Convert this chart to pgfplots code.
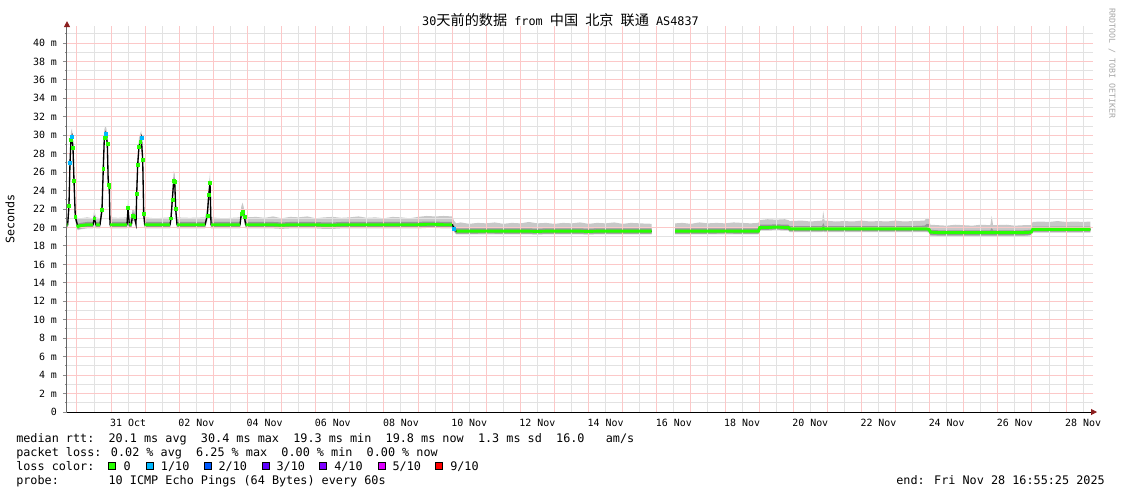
\documentclass[border=0pt]{standalone}
\usepackage{fontspec}
\setmainfont{DejaVu Sans Mono}
\newfontfamily\cjk[Scale=1.2]{Noto Sans CJK SC}
\usepackage{pgfplots}
\usepackage{pgfplotstable}
\pgfplotsset{compat=1.18}
\usepgfplotslibrary{fillbetween}
\usetikzlibrary{arrows.meta}

\definecolor{loss0}{HTML}{26FF00}
\definecolor{loss1}{HTML}{00B8FF}
\definecolor{loss2}{HTML}{0059FF}
\definecolor{loss3}{HTML}{5E00FF}
\definecolor{loss4}{HTML}{7E00FF}
\definecolor{loss5}{HTML}{DD00FF}
\definecolor{loss9}{HTML}{FF0000}
\definecolor{pinkgrid}{RGB}{252,200,200}
\definecolor{graygrid}{RGB}{226,226,226}
\definecolor{smokelt}{RGB}{200,200,200}
\definecolor{smokedk}{RGB}{150,150,150}
\definecolor{arrowred}{RGB}{140,30,30}

% d = days since 30 Oct 00:00; f=1 flat (thick line), l=1 loss 1/10
\pgfplotstableread{
d      med   lo    hi    dlo   dhi   f l
-0.293 20.3  19.9  21.0  20.0  20.6  1 0
-0.273 20.3  19.9  21.1  20.0  20.6  1 0
-0.235 22.4  21.9  23.3  22.1  22.75 0 0
-0.205 27.0  26.5  27.9  26.7  27.35 0 1
-0.176 29.5  29.0  30.4  29.2  29.85 0 0
-0.147 29.85 29.35 30.75 29.55 30.2  0 1
-0.117 28.6  28.1  29.5  28.3  28.95 0 0
-0.088 25.1  24.6  26.0  24.8  25.45 0 0
-0.050 21.2  20.7  22.1  20.9  21.55 0 0
0.009  20.3  19.8  21.1  20.0  20.6  1 0
0.029  20.1  19.7  20.9  19.85 20.4  1 0
0.10   20.2  19.8  21.0  19.9  20.5  1 0
0.30   20.3  19.9  21.1  20.0  20.6  1 0
0.469  20.3  19.9  21.0  20.0  20.6  1 0
0.507  21.0  20.5  21.9  20.7  21.35 0 0
0.557  20.3  19.9  21.1  20.0  20.6  1 0
0.674  20.3  19.9  21.0  20.0  20.6  1 0
0.733  21.9  21.4  22.8  21.6  22.25 0 0
0.771  26.4  25.9  27.3  26.1  26.75 0 0
0.801  29.7  29.2  30.6  29.4  30.05 0 0
0.830  30.2  29.7  31.0  29.9  30.55 0 1
0.859  29.9  29.4  30.8  29.6  30.25 0 0
0.889  29.1  28.6  30.0  28.8  29.45 0 0
0.918  24.6  24.1  25.5  24.3  24.95 0 0
0.947  24.4  23.9  25.2  24.1  24.75 0 0
0.968  20.3  19.9  21.1  20.0  20.6  1 0
1.20   20.3  19.9  21.05 20.0  20.6  1 0
1.466  20.3  19.9  21.1  20.0  20.6  1 0
1.496  22.1  21.6  23.0  21.8  22.45 0 0
1.534  20.3  19.9  21.0  20.0  20.6  1 0
1.60   20.4  20.0  21.2  20.1  20.7  1 0
1.622  21.3  20.8  22.0  21.0  21.65 0 0
1.680  21.2  20.7  21.9  20.9  21.55 0 0
1.730  20.4  20.0  21.1  20.1  20.7  1 0
1.751  23.7  23.2  24.6  23.4  24.05 0 0
1.780  26.8  26.3  27.7  26.5  27.15 0 0
1.818  28.8  28.3  29.7  28.5  29.15 0 0
1.856  29.3  28.8  30.2  29.0  29.65 0 0
1.886  29.7  29.2  30.5  29.4  30.05 0 1
1.927  27.3  26.8  28.2  27.0  27.65 0 0
1.956  21.5  21.0  22.3  21.2  21.85 0 0
1.985  20.3  19.9  21.1  20.0  20.6  1 0
2.30   20.3  19.9  21.0  20.0  20.6  1 0
2.727  20.3  19.9  21.1  20.0  20.6  1 0
2.757  21.0  20.5  21.8  20.7  21.35 0 0
2.795  23.0  22.5  23.9  22.7  23.35 0 0
2.836  25.1  24.6  26.1  24.8  25.45 0 0
2.865  25.0  24.5  25.9  24.7  25.35 0 0
2.894  22.0  21.5  22.8  21.7  22.35 0 0
2.933  20.3  19.9  21.1  20.0  20.6  1 0
3.30   20.3  19.9  21.05 20.0  20.6  1 0
3.754  20.3  19.9  21.1  20.0  20.6  1 0
3.821  21.3  20.8  22.1  21.0  21.65 0 0
3.862  23.5  23.0  24.4  23.2  23.85 0 0
3.900  24.8  24.3  25.9  24.5  25.15 0 0
3.930  20.3  19.9  21.1  20.0  20.6  1 0
4.30   20.3  19.9  21.0  20.0  20.6  1 0
4.780  20.3  19.9  21.1  20.0  20.6  1 0
4.818  21.5  21.0  22.3  21.2  21.85 0 0
4.859  21.7  21.2  22.7  21.4  22.05 0 0
4.906  21.2  20.7  21.9  20.9  21.55 0 0
4.947  20.3  19.9  21.1  20.0  20.6  1 0
5.25   20.3  19.9  21.15 20.0  20.6  1 0
5.5    20.3  19.9  21.05 20.0  20.6  1 0
5.75   20.3  19.9  21.2  20.0  20.6  1 0
6.0    20.25 19.85 21.0  19.95 20.55 1 0
6.25   20.3  19.9  21.15 20.0  20.6  1 0
6.5    20.3  19.9  21.1  20.0  20.6  1 0
6.75   20.3  19.9  21.2  20.0  20.6  1 0
7.0    20.3  19.9  21.0  20.0  20.6  1 0
7.25   20.25 19.85 21.1  19.95 20.55 1 0
7.5    20.25 19.85 21.15 19.95 20.55 1 0
7.75   20.3  19.9  21.05 20.0  20.6  1 0
8.0    20.3  19.9  21.1  20.0  20.6  1 0
8.25   20.3  19.9  21.2  20.0  20.6  1 0
8.5    20.3  19.9  21.05 20.0  20.6  1 0
8.75   20.3  19.9  21.1  20.0  20.6  1 0
9.0    20.3  19.9  21.0  20.0  20.6  1 0
9.25   20.3  19.9  21.15 20.0  20.6  1 0
9.5    20.3  19.9  21.1  20.0  20.6  1 0
9.75   20.3  19.9  21.0  20.0  20.6  1 0
10.0   20.3  19.9  21.15 20.0  20.6  1 0
10.25  20.35 19.95 21.25 20.05 20.65 1 0
10.5   20.35 19.95 21.2  20.05 20.65 1 0
10.75  20.3  19.9  21.25 20.0  20.6  1 0
11.0   20.3  19.9  21.2  20.0  20.6  1 0
11.06  19.9  19.5  20.7  19.6  20.2  0 1
11.12  19.6  19.25 20.45 19.35 19.9  1 0
11.25  19.6  19.25 20.55 19.35 19.9  1 0
11.5   19.6  19.25 20.4  19.35 19.9  1 0
11.75  19.6  19.25 20.5  19.35 19.9  1 0
12.0   19.62 19.27 20.45 19.37 19.92 1 0
12.25  19.6  19.25 20.55 19.35 19.9  1 0
12.5   19.6  19.25 20.4  19.35 19.9  1 0
12.75  19.6  19.25 20.5  19.35 19.9  1 0
13.0   19.6  19.25 20.45 19.35 19.9  1 0
13.25  19.6  19.25 20.6  19.35 19.9  1 0
13.5   19.58 19.23 20.45 19.33 19.88 1 0
13.75  19.6  19.25 20.5  19.35 19.9  1 0
14.0   19.6  19.25 20.4  19.35 19.9  1 0
14.25  19.6  19.25 20.5  19.35 19.9  1 0
14.5   19.6  19.25 20.45 19.35 19.9  1 0
14.75  19.6  19.25 20.55 19.35 19.9  1 0
15.0   19.58 19.23 20.4  19.33 19.88 1 0
15.25  19.6  19.25 20.5  19.35 19.9  1 0
15.5   19.6  19.25 20.45 19.35 19.9  1 0
15.75  19.6  19.25 20.55 19.35 19.9  1 0
16.0   19.6  19.25 20.4  19.35 19.9  1 0
16.25  19.6  19.25 20.5  19.35 19.9  1 0
16.5   19.6  19.25 20.45 19.35 19.9  1 0
16.85  19.6  19.25 20.4  19.35 19.9  1 0
}\segA

\pgfplotstableread{
d      med   lo    hi    dlo   dhi   f l
17.54  19.6  19.25 20.45 19.35 19.9  1 0
17.75  19.6  19.25 20.5  19.35 19.9  1 0
18.0   19.6  19.25 20.4  19.35 19.9  1 0
18.25  19.6  19.25 20.55 19.35 19.9  1 0
18.5   19.6  19.25 20.45 19.35 19.9  1 0
18.75  19.6  19.25 20.5  19.35 19.9  1 0
19.0   19.62 19.27 20.45 19.37 19.92 1 0
19.25  19.6  19.25 20.55 19.35 19.9  1 0
19.5   19.6  19.25 20.5  19.35 19.9  1 0
19.75  19.6  19.25 20.45 19.35 19.9  1 0
19.98  19.6  19.25 20.5  19.35 19.9  1 0
20.02  20.0  19.65 20.8  19.75 20.3  1 0
20.25  20.0  19.65 20.9  19.75 20.3  1 0
20.5   20.05 19.7  20.85 19.8  20.35 1 0
20.75  20.0  19.65 20.9  19.75 20.3  1 0
20.86  20.0  19.65 20.8  19.75 20.3  1 0
20.9   19.85 19.5  20.7  19.6  20.15 1 0
21.25  19.85 19.5  20.75 19.6  20.15 1 0
21.5   19.85 19.5  20.65 19.6  20.15 1 0
21.85  19.85 19.5  20.75 19.6  20.15 1 0
21.88  19.9  19.55 21.75 19.65 20.5  1 0
21.92  19.85 19.5  20.75 19.6  20.15 1 0
22.25  19.85 19.5  20.65 19.6  20.15 1 0
22.5   19.85 19.5  20.7  19.6  20.15 1 0
22.75  19.85 19.5  20.65 19.6  20.15 1 0
23.0   19.85 19.5  20.75 19.6  20.15 1 0
23.25  19.85 19.5  20.65 19.6  20.15 1 0
23.5   19.85 19.5  20.7  19.6  20.15 1 0
23.75  19.85 19.5  20.65 19.6  20.15 1 0
24.0   19.85 19.5  20.75 19.6  20.15 1 0
24.25  19.85 19.5  20.65 19.6  20.15 1 0
24.5   19.85 19.5  20.7  19.6  20.15 1 0
24.85  19.85 19.5  20.75 19.6  20.2  1 0
24.92  19.85 19.5  21.05 19.6  20.4  1 0
24.98  19.8  19.45 21.0  19.55 20.35 1 0
25.02  19.5  19.1  20.3  19.2  19.75 1 0
25.25  19.45 19.05 20.25 19.15 19.7  1 0
25.5   19.45 19.05 20.2  19.15 19.7  1 0
25.75  19.45 19.05 20.3  19.15 19.7  1 0
26.0   19.45 19.05 20.25 19.15 19.7  1 0
26.25  19.45 19.05 20.2  19.15 19.7  1 0
26.5   19.45 19.05 20.3  19.15 19.7  1 0
26.78  19.45 19.05 20.25 19.15 19.7  1 0
26.82  19.45 19.05 21.25 19.15 19.95 1 0
26.86  19.45 19.05 20.25 19.15 19.7  1 0
27.25  19.45 19.05 20.3  19.15 19.7  1 0
27.5   19.45 19.05 20.2  19.15 19.7  1 0
27.75  19.45 19.05 20.25 19.15 19.7  1 0
27.98  19.5  19.15 20.25 19.2  19.75 1 0
28.02  19.8  19.45 20.6  19.55 20.1  1 0
28.25  19.8  19.45 20.65 19.55 20.1  1 0
28.5   19.8  19.45 20.6  19.55 20.1  1 0
28.75  19.8  19.45 20.7  19.55 20.1  1 0
29.0   19.8  19.45 20.6  19.55 20.1  1 0
29.25  19.8  19.45 20.65 19.55 20.1  1 0
29.5   19.8  19.45 20.6  19.55 20.1  1 0
29.71  19.8  19.45 20.65 19.55 20.1  1 0
}\segB

\begin{document}
\begin{tikzpicture}
\begin{scope}[x=0.75pt,y=-0.75pt,shift={(-67,-412)}]
\path[use as bounding box] (0,0) rectangle (1121,494);
\end{scope}

\begin{axis}[
  at={(0pt,0pt)}, anchor=south west,
  scale only axis, width=769.5pt, height=289.2pt,
  xmin=-0.293, xmax=29.79, ymin=0, ymax=41.8,
  axis lines=left,
  x axis line style={black, line width=0.75pt, shorten >=-3pt, -{Triangle[length=4.5pt,width=4.5pt,color=arrowred]}},
  y axis line style={black!60, line width=0.75pt, shorten >=-4pt, -{Triangle[length=4.5pt,width=4.5pt,color=arrowred]}},
  xtick={1.5,3.5,...,29.5},
  xticklabels={31 Oct,02 Nov,04 Nov,06 Nov,08 Nov,10 Nov,12 Nov,14 Nov,16 Nov,18 Nov,20 Nov,22 Nov,24 Nov,26 Nov,28 Nov},
  x tick style={draw=none},
  ytick={0,2,...,40},
  yticklabels={0,2 m,4 m,6 m,8 m,10 m,12 m,14 m,16 m,18 m,20 m,22 m,24 m,26 m,28 m,30 m,32 m,34 m,36 m,38 m,40 m},
  minor ytick={1,3,...,41},
  y tick style={black!45, line width=0.75pt},
  tick align=outside, major tick length=3pt, minor tick length=1.5pt,
  ticklabel style={font=\fontsize{7.45}{8}\selectfont, text=black},
  yticklabel style={xshift=-1pt},
  xticklabel style={yshift=1pt},
  clip=false,
]
% grid: gray every 12 h and every 1 m, pink every day and every 2 m
\pgfplotsinvokeforeach{0.5,1.5,...,29.5}{\draw[draw=graygrid, line width=0.75pt] (axis cs:#1,0) -- (axis cs:#1,41.8);}
\pgfplotsinvokeforeach{1,3,...,41}{\draw[draw=graygrid, line width=0.75pt] (axis cs:-0.293,#1) -- (axis cs:29.79,#1);}
\pgfplotsinvokeforeach{0,1,...,29}{\draw[draw=pinkgrid, line width=0.75pt] (axis cs:#1,0) -- (axis cs:#1,41.8);}
\pgfplotsinvokeforeach{2,4,...,40}{\draw[draw=pinkgrid, line width=0.75pt] (axis cs:-0.293,#1) -- (axis cs:29.79,#1);}
% smoke, segment A
\addplot[draw=none, forget plot, name path=ahi] table[x=d,y=hi]{\segA};
\addplot[draw=none, forget plot, name path=alo] table[x=d,y=lo]{\segA};
\addplot[draw=none, forget plot, name path=adh] table[x=d,y=dhi]{\segA};
\addplot[draw=none, forget plot, name path=adl] table[x=d,y=dlo]{\segA};
\addplot[smokelt, forget plot] fill between[of=ahi and alo];
\addplot[smokedk, forget plot] fill between[of=adh and adl];
% smoke, segment B
\addplot[draw=none, forget plot, name path=bhi] table[x=d,y=hi]{\segB};
\addplot[draw=none, forget plot, name path=blo] table[x=d,y=lo]{\segB};
\addplot[draw=none, forget plot, name path=bdh] table[x=d,y=dhi]{\segB};
\addplot[draw=none, forget plot, name path=bdl] table[x=d,y=dlo]{\segB};
\addplot[smokelt, forget plot] fill between[of=bhi and blo];
\addplot[smokedk, forget plot] fill between[of=bdh and bdl];
% median
\addplot[black, line width=1pt] table[x=d,y=med]{\segA};
\addplot[black, line width=1pt] table[x=d,y=med]{\segB};
\addplot[loss0, line width=2.2pt, unbounded coords=jump,
  restrict expr to domain={\thisrow{f}}{1:1}] table[x=d,y=med]{\segA};
\addplot[loss0, line width=2.2pt] table[x=d,y=med]{\segB};
\addplot[only marks, mark=square*, mark size=1.1pt, loss0,
  restrict expr to domain={\thisrow{f}+2*\thisrow{l}}{0:0}] table[x=d,y=med]{\segA};
\addplot[only marks, mark=square*, mark size=1.1pt, loss1,
  restrict expr to domain={\thisrow{l}}{1:1}] table[x=d,y=med]{\segA};
\end{axis}

\begin{scope}[x=0.75pt,y=-0.75pt,shift={(-67,-412)}]
\node[font=\fontsize{8.85}{10}\selectfont, anchor=base] at (560.5,25.5)
  {30{\cjk 天前的数据} from {\cjk 中国} {\cjk 北京} {\cjk 联通} AS4837};
\node[font=\fontsize{8.75}{10}\selectfont, rotate=90] at (10,219) {Seconds};
\node[font=\fontsize{6.2}{7}\selectfont, text=black!35, rotate=-90, anchor=west] at (1112,4) {RRDTOOL / TOBI OETIKER};
\begin{scope}[every node/.style={font=\fontsize{8.85}{10}\selectfont, anchor=base west, inner sep=0pt}]
\node at (16,442) {median rtt:~~20.1 ms avg~~30.4 ms max~~19.3 ms min~~19.8 ms now~~1.3 ms sd~~16.0~~~am/s};
\node at (16,456) {packet loss: 0.02 \% avg~~6.25 \% max~~0.00 \% min~~0.00 \% now};
\node at (16,470) {loss color:};
\node at (123.3,470) {0};
\node at (160.7,470) {1/10};
\node at (218.3,470) {2/10};
\node at (276.3,470) {3/10};
\node at (334,470) {4/10};
\node at (392.3,470) {5/10};
\node at (450,470) {9/10};
\node at (16,484) {probe:~~~~~~~10 ICMP Echo Pings (64 Bytes) every 60s};
\node[anchor=base east] at (1105,484) {end: Fri Nov 28 16:55:25 2025};
\end{scope}
\begin{scope}[every node/.style={draw=black, line width=0.75pt, minimum size=5.25pt, inner sep=0pt}]
\node[fill=loss0] at (112.2,466) {};
\node[fill=loss1] at (149.8,466) {};
\node[fill=loss2] at (207.5,466) {};
\node[fill=loss3] at (265.7,466) {};
\node[fill=loss4] at (323.3,466) {};
\node[fill=loss5] at (381.5,466) {};
\node[fill=loss9] at (439,466) {};
\end{scope}
\end{scope}
\end{tikzpicture}
\end{document}
